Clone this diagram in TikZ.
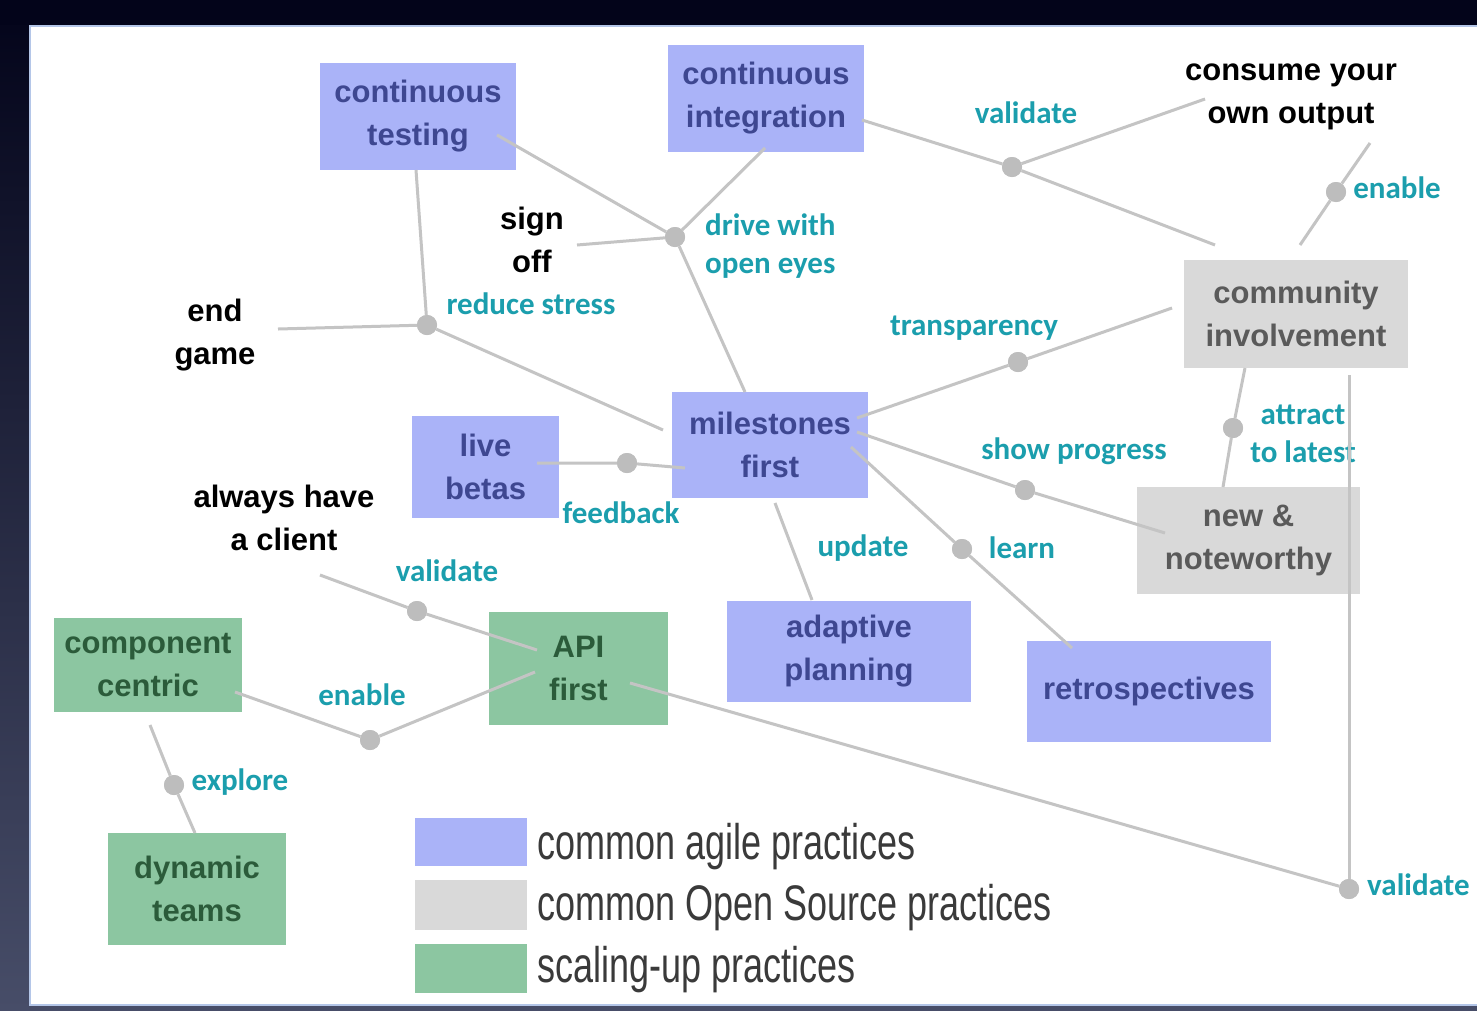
\documentclass[tikz,border=0pt]{standalone}
\usepackage{fontspec}
\setmainfont{Liberation Sans}
\newfontfamily\bfam{Liberation Sans}
\newfontfamily\lfam{Carlito}
\newfontfamily\gfam[FakeStretch=0.72]{Liberation Sans}
\definecolor{bgtop}{HTML}{03041A}
\definecolor{bgbot}{HTML}{474D68}
\definecolor{panelborder}{HTML}{B4C6E8}
\definecolor{agilefill}{HTML}{AAB3F8}
\definecolor{agiletext}{HTML}{3E4791}
\definecolor{ossfill}{HTML}{D9D9D9}
\definecolor{osstext}{HTML}{5A5A5A}
\definecolor{scfill}{HTML}{8CC6A1}
\definecolor{sctext}{HTML}{2B5B3A}
\definecolor{tealtext}{HTML}{1B9EAD}
\definecolor{linegray}{HTML}{C4C4C4}
\definecolor{dotgray}{HTML}{BDBDBD}
\definecolor{legtext}{HTML}{3A3A3A}
\begin{document}
\begin{tikzpicture}[x=1pt,y=-1pt,
  box/.style={rectangle, inner sep=0pt, align=center, font={\bfam\bfseries\fontsize{31}{43}\selectfont}},
  agile/.style={box, fill=agilefill, text=agiletext},
  oss/.style={box, fill=ossfill, text=osstext},
  scaleup/.style={box, fill=scfill, text=sctext},
  lbl/.style={inner sep=0pt, align=center, text=tealtext, font={\lfam\bfseries\fontsize{31}{38}\selectfont}},
  blk/.style={inner sep=0pt, align=center, text=black, font={\bfam\bfseries\fontsize{31}{43}\selectfont}},
  leg/.style={inner sep=0pt, anchor=base west, text=legtext, font={\gfam\fontsize{50}{55}\selectfont}},
  swatch/.style={rectangle, inner sep=0pt, minimum width=112pt},
  link/.style={draw=linegray, line width=3pt},
  jdot/.style={circle, fill=dotgray, minimum size=20pt, inner sep=0pt}
]
\useasboundingbox (0,0) rectangle (1477,1010);
\clip (0,0) rectangle (1477,1010);
% background
\shade[top color=bgtop, bottom color=bgbot] (0,0) rectangle (1477,1010);
\fill[bgtop] (0,0) rectangle (1477,25);
\draw[draw=panelborder, line width=2.5pt, fill=white] (30,26) rectangle (1510,1005);

% boxes
\node[agile, minimum width=196pt, minimum height=107pt] (ct) at (418,116.5) {continuous\\testing};
\node[agile, minimum width=196pt, minimum height=107pt] (ci) at (766,98.5) {continuous\\integration};
\node[agile, minimum width=196pt, minimum height=106pt] (ms) at (770,445) {milestones\\first};
\node[agile, minimum width=147pt, minimum height=102pt] (lb) at (485.5,467) {live\\betas};
\node[agile, minimum width=244pt, minimum height=101pt] (ap) at (849,651.5) {adaptive\\planning};
\node[agile, minimum width=244pt, minimum height=101pt] (re) at (1149,691.5) {retrospectives};
\node[oss, minimum width=224pt, minimum height=108pt] (cv) at (1296,314) {community\\involvement};
\node[oss, minimum width=223pt, minimum height=107pt] (nn) at (1248.5,540.5) {new \&\\noteworthy};
\node[scaleup, minimum width=179pt, minimum height=113pt] (api) at (578.5,668.5) {API\\first};
\node[scaleup, minimum width=188pt, minimum height=94pt] (cc) at (148,665) {component\\centric};
\node[scaleup, minimum width=178pt, minimum height=112pt] (dt) at (197,889) {dynamic\\teams};

% black labels
\node[blk] (cons) at (1291,97) {consume your\\own output};
\node[blk] (sign) at (532,240) {sign\\off};
\node[blk] (endg) at (215,335) {end\\game};
\node[blk] (alw) at (284,518) {always have\\a client};

% teal labels
\node[lbl] (t1) at (1026,113) {validate};
\node[lbl] (t2) at (1397,188) {enable};
\node[lbl, anchor=west, align=left] (t3) at (705,246) {drive with\\open eyes};
\node[lbl] (t4) at (531,304) {reduce stress};
\node[lbl] (t5) at (974,328) {transparency};
\node[lbl] (t6) at (1074,451) {show progress};
\node[lbl] (t7) at (1303,434) {attract\\to latest};
\node[lbl] (t8) at (621,513) {feedback};
\node[lbl] (t9) at (863,548) {update};
\node[lbl] (t10) at (1022,548) {learn};
\node[lbl] (t11) at (447,571) {validate};
\node[lbl] (t12) at (362,695) {enable};
\node[lbl] (t13) at (240,782) {explore};
\node[lbl, anchor=west] (t14) at (1367,885) {validate};

% legend
\node[swatch, fill=agilefill, minimum height=48pt] (sw1) at (471,842) {};
\node[swatch, fill=ossfill, minimum height=50pt] (sw2) at (471,905) {};
\node[swatch, fill=scfill, minimum height=49pt] (sw3) at (471,968.5) {};
\node[leg] (lg1) at (537,859) {common agile practices};
\node[leg] (lg2) at (537,920) {common Open Source practices};
\node[leg] (lg3) at (537,982) {scaling-up practices};

% junction dots
\node[jdot] (d1) at (1012,167) {};
\node[jdot] (d2) at (1336,192) {};
\node[jdot] (d3) at (675,237) {};
\node[jdot] (d4) at (427,325) {};
\node[jdot] (d5) at (1018,362) {};
\node[jdot] (d6) at (627,463) {};
\node[jdot] (d7) at (1025,490) {};
\node[jdot] (d8) at (962,549) {};
\node[jdot] (d9) at (1233,428) {};
\node[jdot] (d10) at (417,611) {};
\node[jdot] (d11) at (370,740) {};
\node[jdot] (d12) at (174,785) {};
\node[jdot] (d13) at (1349,889) {};

% connector end points
\coordinate (ciR) at (862,120);
\coordinate (cvTL) at (1215,245);
\coordinate (consL) at (1205,99);
\coordinate (consB) at (1370,143);
\coordinate (cvT) at (1300,245);
\coordinate (ctR) at (497,135);
\coordinate (ciB) at (765,148);
\coordinate (signR) at (577,245);
\coordinate (msT) at (745,392);
\coordinate (ctB) at (416,170);
\coordinate (endR) at (278,329);
\coordinate (msL) at (663,430);
\coordinate (msR1) at (857,418);
\coordinate (cvL) at (1172,308);
\coordinate (lbR) at (537,463);
\coordinate (msL2) at (685,468);
\coordinate (msR2) at (857,432);
\coordinate (nnL) at (1165,533);
\coordinate (msR3) at (851,447);
\coordinate (reT) at (1072,648);
\coordinate (msB) at (775,503);
\coordinate (apT) at (812,600);
\coordinate (cvB) at (1245,368);
\coordinate (nnT) at (1223,487);
\coordinate (alwB) at (320,575);
\coordinate (apiL1) at (537,650);
\coordinate (ccR) at (235,692);
\coordinate (apiL2) at (535,672);
\coordinate (ccB) at (150,725);
\coordinate (dtT) at (195,833);
\coordinate (apiR) at (630,683);
\coordinate (cvB2) at (1349,375);

% connectors
\draw[link] (ciR) -- (d1) -- (cvTL);
\draw[link] (d1) -- (consL);
\draw[link] (consB) -- (d2) -- (cvT);
\draw[link] (ctR) -- (d3);
\draw[link] (ciB) -- (d3);
\draw[link] (signR) -- (d3);
\draw[link] (d3) -- (msT);
\draw[link] (ctB) -- (d4);
\draw[link] (endR) -- (d4);
\draw[link] (d4) -- (msL);
\draw[link] (msR1) -- (d5) -- (cvL);
\draw[link] (lbR) -- (d6) -- (msL2);
\draw[link] (msR2) -- (d7) -- (nnL);
\draw[link] (msR3) -- (d8) -- (reT);
\draw[link] (msB) -- (apT);
\draw[link] (cvB) -- (d9) -- (nnT);
\draw[link] (alwB) -- (d10) -- (apiL1);
\draw[link] (ccR) -- (d11) -- (apiL2);
\draw[link] (ccB) -- (d12) -- (dtT);
\draw[link] (apiR) -- (d13);
\draw[link] (cvB2) -- (d13);

% dots on top of the connectors
\foreach \d in {d1,d2,d3,d4,d5,d6,d7,d8,d9,d10,d11,d12,d13}
  \fill[dotgray] (\d) circle (10pt);
\end{tikzpicture}
\end{document}
